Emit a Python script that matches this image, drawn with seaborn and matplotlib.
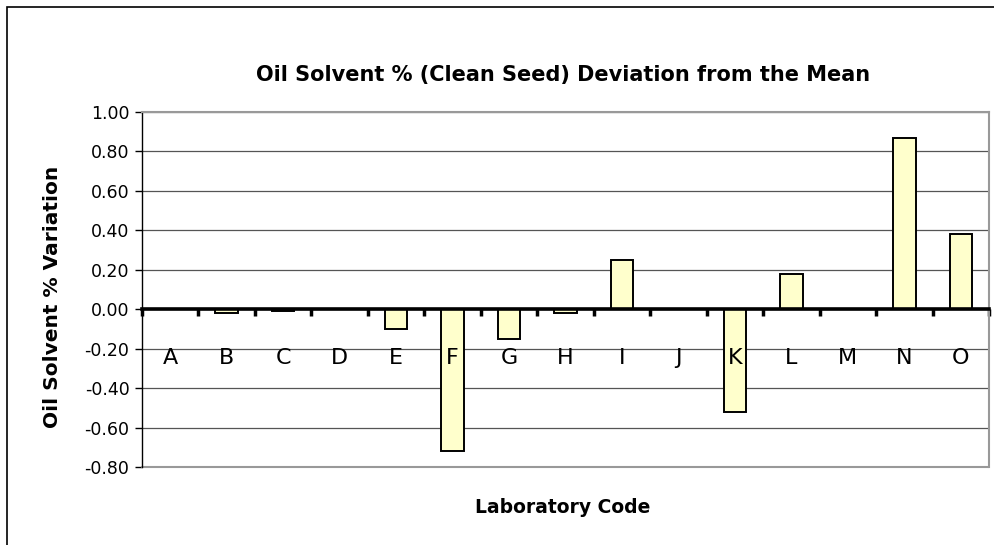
import matplotlib
matplotlib.use("Agg")
import matplotlib.pyplot as plt
import seaborn as sns
import pandas as pd
from matplotlib.patches import Rectangle
from matplotlib.ticker import FormatStrFormatter

labs = ["A", "B", "C", "D", "E", "F", "G", "H", "I", "J", "K", "L", "M", "N", "O"]
deviation = [0.0, -0.02, -0.01, 0.0, -0.10, -0.72, -0.15, -0.02, 0.25, 0.0, -0.52, 0.18, 0.0, 0.87, 0.38]
y_ticks = [-0.8, -0.6, -0.4, -0.2, 0.0, 0.2, 0.4, 0.6, 0.8, 1.0]

df = pd.DataFrame({"lab": labs, "dev": deviation})

sns.set_style("white")
plt.rcParams["font.family"] = ["DejaVu Sans"]
for k in ["text.color", "axes.labelcolor", "xtick.color", "ytick.color"]:
    plt.rcParams[k] = "black"

fig = plt.figure(figsize=(9.95, 5.45), dpi=100)
ax = fig.add_axes([0.1427, 0.1431, 0.8513, 0.6514])

sns.barplot(data=df, x="lab", y="dev", color="#FFFFCC", edgecolor="black",
            linewidth=1.4, width=0.4, saturation=1, ax=ax, zorder=3)

ax.set_ylim(-0.8, 1.0)
ax.set_xlim(-0.5, len(labs) - 0.5)
ax.set_yticks(y_ticks)
ax.yaxis.set_major_formatter(FormatStrFormatter("%.2f"))
ax.grid(axis="y", color="#555555", linewidth=0.9, zorder=0)
ax.grid(axis="x", visible=False)

# zero line acts as the category axis
ax.spines["bottom"].set_position(("data", 0))
ax.spines["bottom"].set_linewidth(2.6)
ax.spines["bottom"].set_color("black")
ax.spines["bottom"].set_zorder(4)
ax.spines["left"].set_color("black")
ax.spines["left"].set_linewidth(1.0)
for s in ["top", "right"]:
    ax.spines[s].set_color("#999999")
    ax.spines[s].set_linewidth(1.5)
ax.axhline(-0.8, color="#999999", linewidth=1.5, zorder=1, clip_on=False)

ax.set_xticks([i - 0.5 for i in range(len(labs) + 1)])
ax.set_xticklabels([])
ax.tick_params(axis="x", direction="out", length=5, width=2.5, color="black", bottom=True)
ax.tick_params(axis="y", direction="out", length=5, width=1, color="black", left=True,
               labelsize=12.5, pad=4)

for i, lab in enumerate(labs):
    ax.text(i, -0.276, lab, ha="center", va="baseline", fontsize=16, zorder=5)

ax.set_xlabel("")
ax.set_ylabel("")
fig.text(0.0523, 0.455, "Oil Solvent % Variation", rotation=90, ha="center", va="center",
         fontsize=14.5, fontweight="bold")
fig.text(0.566, 0.862, "Oil Solvent % (Clean Seed) Deviation from the Mean",
         ha="center", va="center", fontsize=15, fontweight="bold")
fig.text(0.566, 0.068, "Laboratory Code", ha="center", va="center",
         fontsize=13.5, fontweight="bold")

fig.patches.append(Rectangle((0.007, -0.1), 1.2, 1.087, transform=fig.transFigure,
                             fill=False, edgecolor="black", linewidth=1.2))

fig.savefig("out.png", dpi=100)
